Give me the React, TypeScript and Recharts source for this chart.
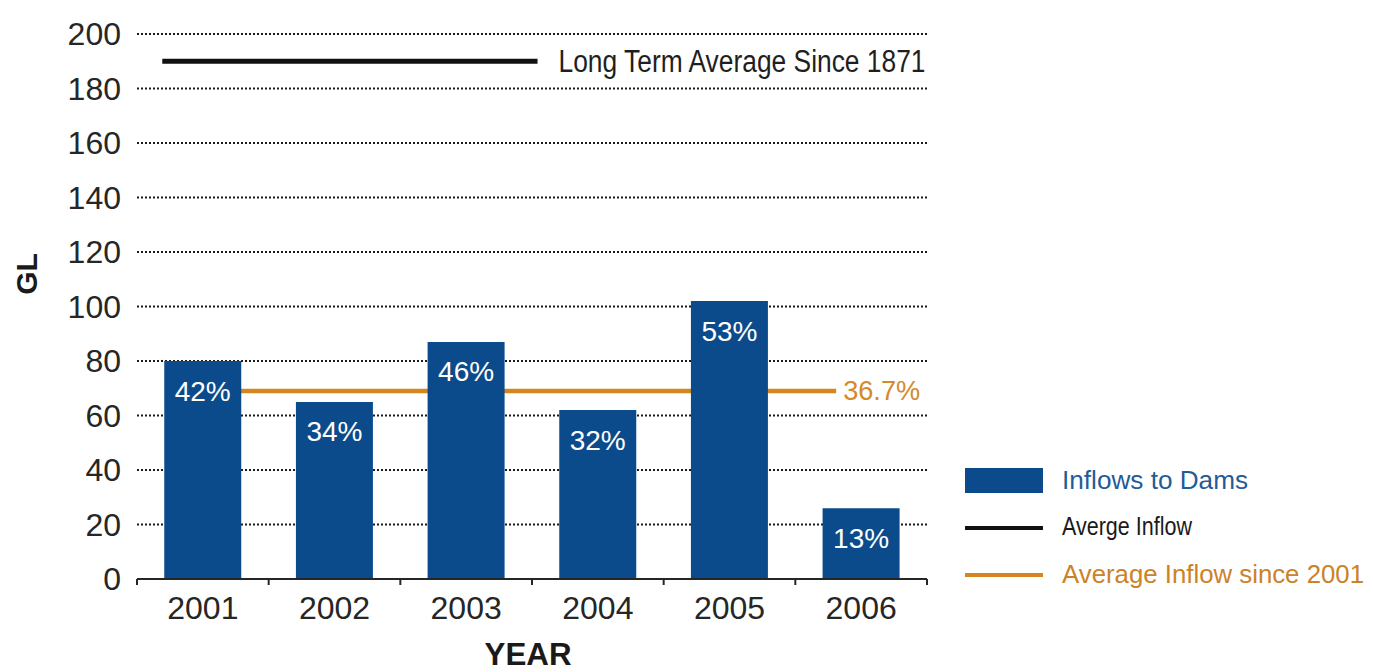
import {
  Bar,
  BarChart,
  CartesianGrid,
  LabelList,
  Legend,
  ReferenceLine,
  XAxis,
  YAxis,
} from "recharts";

// ── Data ──────────────────────────────────────────────────────────────────────
const YEARS = ["2001", "2002", "2003", "2004", "2005", "2006"];
const INFLOW_GL = [80, 65, 87, 62, 102, 26];
const SHARE_OF_AVG = ["42%", "34%", "46%", "32%", "53%", "13%"];
const Y_TICKS = [0, 20, 40, 60, 80, 100, 120, 140, 160, 180, 200];

const LONG_TERM_AVG = 190;
const LONG_TERM_LABEL = "Long Term Average Since 1871";
const AVG_SINCE_2001 = 69;
const AVG_SINCE_2001_LABEL = "36.7%";

const LEGEND_ITEMS = [
  { name: "Inflows to Dams", kind: "rect" },
  { name: "Averge Inflow", kind: "black" },
  { name: "Average Inflow since 2001", kind: "orange" },
];

const data = YEARS.map((year, i) => ({
  year,
  inflow: INFLOW_GL[i],
  share: SHARE_OF_AVG[i],
}));

// ── Theme ─────────────────────────────────────────────────────────────────────
const BAR_BLUE = "#0b4b8b";
const ORANGE = "#d4871f";
const TEXT_DARK = "#262626";
const FONT = "'Liberation Sans', Arial, Helvetica, sans-serif";

// horizontal extent of the average lines, as a fraction of the plot width
const LONG_TERM_SPAN: [number, number] = [0.032, 0.507];
const SINCE_2001_SPAN: [number, number] = [0.07, 0.885];

function partialLine(
  span: [number, number],
  stroke: string,
  strokeWidth: number,
  label: { text: string; gap: number; fontSize: number; fill: string; length: number },
) {
  return (props: any) => {
    const { x1, x2, y1 } = props;
    const a = x1 + (x2 - x1) * span[0];
    const b = x1 + (x2 - x1) * span[1];
    return (
      <g>
        <line x1={a} y1={y1} x2={b} y2={y1} stroke={stroke} strokeWidth={strokeWidth} />
        <text
          x={b + label.gap}
          y={y1}
          dominantBaseline="central"
          fontSize={label.fontSize}
          fill={label.fill}
          textLength={label.length}
          lengthAdjust="spacingAndGlyphs"
        >
          {label.text}
        </text>
      </g>
    );
  };
}

function YearTick(props: any) {
  const { x, y, payload, index, width } = props;
  const half = payload?.offset ?? width / YEARS.length / 2;
  return (
    <g>
      <line x1={x - half} y1={y} x2={x - half} y2={y + 6} stroke={TEXT_DARK} strokeWidth={2} />
      {index === YEARS.length - 1 && (
        <line x1={x + half} y1={y} x2={x + half} y2={y + 6} stroke={TEXT_DARK} strokeWidth={2} />
      )}
      <text
        x={x}
        y={y + 29}
        textAnchor="middle"
        dominantBaseline="central"
        fontSize={32}
        fill={TEXT_DARK}
      >
        {payload.value}
      </text>
    </g>
  );
}

function ShareLabel(props: any) {
  const { x, y, width, value } = props;
  return (
    <text
      x={x + width / 2}
      y={y + 30}
      textAnchor="middle"
      dominantBaseline="central"
      fontSize={28}
      fill="#ffffff"
    >
      {value}
    </text>
  );
}

function LegendBlock() {
  return (
    <svg width={413} height={140} style={{ display: "block", fontFamily: FONT }}>
      <rect x={5} y={13} width={78} height={25} fill={BAR_BLUE} />
      <text x={102} y={25} dominantBaseline="central" fontSize={25} fill="#1f5c98" textLength={186} lengthAdjust="spacingAndGlyphs">
        {LEGEND_ITEMS[0].name}
      </text>
      <line x1={5} y1={73} x2={83} y2={73} stroke="#111" strokeWidth={4} />
      <text x={102} y={71} dominantBaseline="central" fontSize={25} fill="#1a1a1a" textLength={130} lengthAdjust="spacingAndGlyphs">
        {LEGEND_ITEMS[1].name}
      </text>
      <line x1={5} y1={120} x2={83} y2={120} stroke={ORANGE} strokeWidth={4} />
      <text x={102} y={119} dominantBaseline="central" fontSize={25} fill="#cc8226" textLength={302} lengthAdjust="spacingAndGlyphs">
        {LEGEND_ITEMS[2].name}
      </text>
    </svg>
  );
}

export default function App() {
  return (
    <div style={{ position: "absolute", left: 0, top: 0, fontFamily: FONT, background: "#fff" }}>
      <BarChart
        width={1373}
        height={672}
        data={data}
        margin={{ top: 34, right: 446, left: 0, bottom: 0 }}
        barCategoryGap="20.7%"
      >
        <CartesianGrid
          vertical={false}
          stroke="#1a1a1a"
          strokeWidth={2}
          strokeDasharray="2 2"
        />
        <XAxis
          dataKey="year"
          height={93}
          axisLine={{ stroke: TEXT_DARK, strokeWidth: 2 }}
          tickLine={false}
          tickSize={0}
          tickMargin={0}
          tick={<YearTick />}
          interval={0}
          label={({ viewBox }: any) => (
            <text
              x={viewBox.x + viewBox.width / 2 - 4}
              y={viewBox.y + 75}
              textAnchor="middle"
              dominantBaseline="central"
              fontSize={31}
              fontWeight="bold"
              fill="#1a1a1a"
              textLength={87}
              lengthAdjust="spacingAndGlyphs"
            >
              YEAR
            </text>
          )}
        />
        <YAxis
          width={137}
          domain={[0, 200]}
          ticks={Y_TICKS}
          interval={0}
          axisLine={false}
          tickLine={false}
          tickSize={0}
          tickMargin={16}
          tick={{ fill: TEXT_DARK, fontSize: 32 }}
          label={({ viewBox }: any) => (
            <text
              x={26}
              y={viewBox.y + 240}
              transform={`rotate(-90, 26, ${viewBox.y + 240})`}
              textAnchor="middle"
              dominantBaseline="central"
              fontSize={30}
              fontWeight="bold"
              fill="#1a1a1a"
            >
              GL
            </text>
          )}
        />
        {/* sits under the bars, so it only shows in the gaps */}
        <ReferenceLine
          y={AVG_SINCE_2001}
          zIndex={-50}
          shape={partialLine(SINCE_2001_SPAN, ORANGE, 4.5, {
            text: AVG_SINCE_2001_LABEL,
            gap: 7,
            fontSize: 28,
            fill: "#d38a2c",
            length: 77,
          })}
        />
        <Bar dataKey="inflow" fill={BAR_BLUE} isAnimationActive={false}>
          <LabelList dataKey="share" content={<ShareLabel />} />
        </Bar>
        <ReferenceLine
          y={LONG_TERM_AVG}
          shape={partialLine(LONG_TERM_SPAN, "#111", 5, {
            text: LONG_TERM_LABEL,
            gap: 21,
            fontSize: 31,
            fill: "#1f1f1f",
            length: 367,
          })}
        />
        <Legend
          layout="horizontal"
          align="center"
          verticalAlign="middle"
          content={() => <LegendBlock />}
          wrapperStyle={{ left: 960, top: 455, width: 413, height: 140 }}
        />
      </BarChart>
    </div>
  );
}
